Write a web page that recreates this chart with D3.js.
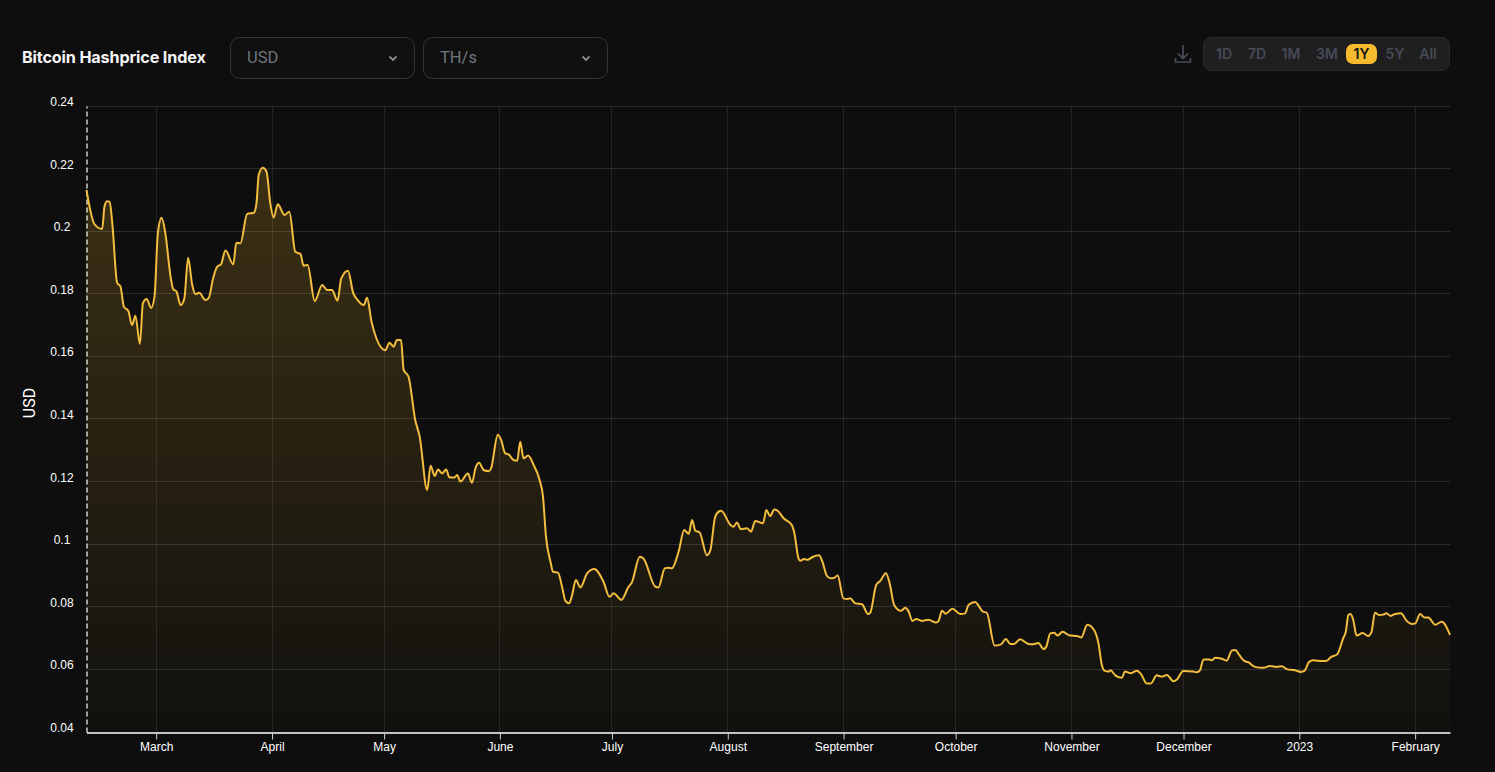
<!DOCTYPE html>
<html><head><meta charset="utf-8">
<script src="https://cdn.jsdelivr.net/npm/d3@7"></script>
<style>
html,body{margin:0;padding:0;background:#0e0e0e;overflow:hidden}
svg{display:block}
</style></head><body><svg id="c" width="1495" height="772"></svg>
<script>
const title = "Bitcoin Hashprice Index";
const selectors = ["USD", "TH/s"];
const ranges = ["1D","7D","1M","3M","1Y","5Y","All"];
const activeRange = "1Y";
const yLabel = "USD";
const startTime = "2022-02-10T08:00:00Z";
const endTime = "2023-02-10T08:00:00Z";
const yTicks = [0.04,0.06,0.08,0.1,0.12,0.14,0.16,0.18,0.2,0.22,0.24];
const monthTicks = ["2022-03-01","2022-04-01","2022-05-01","2022-06-01","2022-07-01","2022-08-01","2022-09-01","2022-10-01","2022-11-01","2022-12-01","2023-01-01","2023-02-01"];
const monthLabels = ["March","April","May","June","July","August","September","October","November","December","2023","February"];
// days since startTime
const days = [0,2.1,4.2,4.8,5.5,6.2,6.9,8.2,9.1,10,11.2,12.2,13.1,14.3,15.1,16.1,17.3,18.2,19.1,20.1,21.1,22.5,23.2,24.1,25.2,26.2,27.2,28.3,29.2,30.2,31.8,32.7,33.9,35,36,37.2,39.3,40.1,41.2,43,44.8,45.5,46.1,47.2,48.2,49.2,50.1,51.2,53,54.3,55.9,57.3,58.1,59.2,61.1,63.1,64.4,65.7,67.2,68.2,70,71.4,72.4,74.2,75.1,76.3,80,81.1,82.2,83.1,84.2,84.9,86.2,88,89.2,91.2,92.1,93.2,94.1,95.2,96.3,97.1,98.5,99.2,100.1,102.1,103.2,104.1,105.1,106.3,107.7,108.3,110.1,111,112.1,113,114.3,115.3,116.1,117,118.2,119.7,121.3,122.2,123,124.2,124.9,126.2,127.3,128.2,129.2,130,131,132.2,134,135.9,138.4,140,141.1,143.2,145.1,146,148.1,149.1,152.3,153.1,154.8,155.6,156.7,158.5,160,161.2,162.1,163,164.1,166.1,167,168.3,169.5,169.9,172.3,173.2,174.1,175.2,176.8,177.9,179,181.1,182,183,184.1,185,186.6,188.8,189.5,190.6,191.1,192.1,193,194.5,196.1,197,198.2,199.1,200.2,201.1,202.6,203.8,204.4,205.8,207.6,209.2,209.8,211.4,212.5,214,215,216.2,218,219.2,220,221.1,222.1,223.6,225.4,227.4,228.1,229,230,231.8,233.9,235.2,236.1,237.9,238.8,239.9,241,243.1,244.8,246.1,247.3,248.3,249.9,252.2,253.1,254.8,256.2,256.9,258,259.1,259.9,261.3,263.3,265.1,266.3,267.9,269.8,270.9,271.8,272.5,273.6,274.1,275.4,277.1,278,279.6,281.2,282.3,283.8,284.9,286.5,287.8,289.2,291,291.9,293.6,296.2,297.2,298.1,299,300.6,301.2,302.1,303.9,305.2,306.6,307.5,308.6,309.9,311,312.8,315,316.8,318.6,320,321.3,323.5,325.1,326,327.3,328.4,330.7,332,333.1,334.8,336.4,337.1,337.8,338.4,339.1,340,341.6,343.1,344,344.9,346,347.1,348,349.1,350.3,351.9,353.4,354.8,355.7,357,358.1,359.2,361,362.8,365];
const values = [.2132,.2023,.2007,.2078,.2096,.2094,.2026,.1835,.1823,.1759,.1745,.17,.173,.164,.177,.1783,.1755,.1791,.1993,.2043,.1994,.1855,.1815,.1807,.1764,.1786,.1915,.1828,.1799,.1803,.178,.1786,.185,.1887,.1894,.1938,.1894,.1963,.1961,.2055,.2059,.2089,.218,.2203,.219,.2089,.2044,.2086,.2052,.2062,.1934,.1927,.189,.1892,.1777,.1828,.1812,.1812,.1778,.1849,.1874,.1802,.1783,.1764,.1787,.1711,.162,.1644,.1631,.1652,.1652,.1557,.1535,.1397,.1343,.1173,.1251,.1218,.1239,.1226,.1239,.1214,.1213,.1221,.12,.1226,.1196,.1242,.126,.1237,.1233,.1242,.135,.1333,.129,.1287,.1269,.1267,.1327,.1274,.1283,.1253,.1205,.1152,.1024,.0944,.0912,.0909,.0864,.0819,.0811,.0838,.0886,.0862,.0907,.0921,.088,.0832,.0843,.0822,.0864,.0878,.096,.0954,.0864,.0862,.0923,.0925,.0923,.0976,.1045,.1033,.1077,.1043,.1038,.0965,.0981,.1088,.1106,.1107,.1063,.1056,.1069,.1048,.1051,.104,.1074,.1067,.1109,.109,.1111,.1107,.1083,.1061,.1035,.0955,.0947,.0953,.095,.096,.0965,.0944,.0899,.0891,.0893,.09,.0827,.0825,.0827,.0811,.0808,.0777,.0781,.087,.0883,.0907,.0875,.0806,.0787,.0797,.0787,.0755,.0761,.0755,.0759,.075,.0755,.0787,.0778,.0794,.0777,.0779,.0806,.0815,.0804,.0785,.0781,.0676,.068,.0697,.0681,.0681,.0696,.0681,.068,.0684,.0665,.0672,.0715,.0717,.0708,.072,.0708,.0707,.0702,.0743,.0724,.0683,.0614,.0596,.0593,.0597,.0581,.0573,.0593,.0588,.0596,.0585,.0555,.0555,.0581,.0577,.0582,.0562,.0568,.0595,.0593,.0591,.0598,.0632,.0632,.0629,.0637,.0634,.0628,.066,.0662,.0646,.0627,.0623,.0608,.0605,.0611,.0608,.061,.0601,.0597,.0592,.0595,.0624,.0629,.0627,.0628,.0639,.0648,.0699,.072,.0774,.0777,.0758,.0708,.0716,.0707,.072,.0781,.0774,.0775,.0779,.0771,.0777,.0779,.0755,.0745,.0747,.0777,.0766,.0766,.0743,.0752,.071];

const svg = d3.select("#c");
const t0 = new Date(startTime);
const x = d3.scaleUtc().domain([t0,new Date(endTime)]).range([86.5,1450]);
const y = d3.scaleLinear().domain([0.04,0.24]).range([732,106]);
const pts = days.map((d,i)=>({t:new Date(+t0+d*864e5),v:values[i]}));
const monthDates = monthTicks.map(s=>new Date(s+"T00:00:00Z"));
const snap = v=>Math.floor(v)+.5;

const defs = svg.append("defs");
const g = defs.append("linearGradient").attr("id","fill").attr("gradientUnits","userSpaceOnUse")
  .attr("x1",0).attr("x2",0).attr("y1",y(0.22)).attr("y2",y(0.04));
g.append("stop").attr("offset",0).attr("stop-color","#f5ba2e").attr("stop-opacity",0.2);
g.append("stop").attr("offset",1).attr("stop-color","#f5ba2e").attr("stop-opacity",0.015);

// area
svg.append("path").datum(pts).attr("fill","url(#fill)")
  .attr("d",d3.area().x(d=>x(d.t)).y0(y(0.04)).y1(d=>y(d.v)).curve(d3.curveMonotoneX));

// grid
svg.append("g").selectAll("line").data(yTicks.slice(1)).join("line")
  .attr("x1",86.5).attr("x2",1450).attr("y1",d=>snap(y(d))).attr("y2",d=>snap(y(d)))
  .attr("stroke","rgba(255,255,255,0.12)");
svg.append("g").selectAll("line").data(monthDates).join("line")
  .attr("x1",d=>snap(x(d))).attr("x2",d=>snap(x(d))).attr("y1",106.5).attr("y2",732)
  .attr("stroke","rgba(255,255,255,0.09)");

// y axis
const ya = svg.append("g").attr("transform","translate(86.5,0)")
  .call(d3.axisLeft(y).tickValues(yTicks).tickFormat(d=>String(+d.toFixed(2))).tickSize(0));
ya.select(".domain").attr("stroke","#fff").attr("stroke-width",1.2).attr("stroke-dasharray","5,3");
ya.selectAll("text").attr("x",-24.5).attr("dy",0).attr("y",-0.5).attr("text-anchor","middle")
  .attr("fill","#fff").attr("font-size",12).attr("font-family","Liberation Sans,Arial,sans-serif");

// x axis
const xa = svg.append("g").attr("transform","translate(0,732.5)")
  .call(d3.axisBottom(x).tickValues(monthDates).tickFormat((d,i)=>monthLabels[i]).tickSize(7).tickSizeOuter(0));
xa.select(".domain").attr("stroke","#fff").attr("stroke-width",1.4);
xa.selectAll("line").attr("stroke","#cfcfcf");
xa.selectAll("text").attr("fill","#fff").attr("font-size",12).attr("y",10).attr("dy","0.71em")
  .attr("font-family","Liberation Sans,Arial,sans-serif");

// line
svg.append("path").datum(pts).attr("fill","none").attr("stroke","#f3bd3e").attr("stroke-width",2)
  .attr("d",d3.line().x(d=>x(d.t)).y(d=>y(d.v)).curve(d3.curveMonotoneX));

// y title
svg.append("text").attr("transform","translate(35,403) rotate(-90)").attr("text-anchor","middle")
  .attr("fill","#fff").attr("font-size",16).attr("font-family","Roboto,sans-serif").text(yLabel);

// header
svg.append("text").attr("x",22).attr("y",63).attr("fill","#f4f4f6").attr("font-size",16.2).attr("font-weight",700)
  .attr("letter-spacing",-0.15).attr("font-family","Inter,sans-serif").text(title);
const selX = [230,423];
selectors.forEach((s,i)=>{
  const a = selX[i];
  svg.append("rect").attr("x",a+.5).attr("y",37.5).attr("width",184).attr("height",41).attr("rx",9)
    .attr("fill","#101010").attr("stroke","#333436");
  svg.append("text").attr("x",a+17).attr("y",63).attr("fill","#6f767d").attr("font-size",16.5)
    .attr("font-family","Roboto,sans-serif").text(s);
  svg.append("path").attr("d",`M${a+159.5},56.5 l3.5,3.5 l3.5,-3.5`).attr("fill","none").attr("stroke","#8a8d90").attr("stroke-width",1.8);
});
// download icon
svg.append("path").attr("d","M1183,45 V58 M1178,53.5 L1183,58.5 L1188,53.5 M1175.5,58 V62 H1190.5 V58")
  .attr("fill","none").attr("stroke","#474c57").attr("stroke-width",1.7);
// range buttons
svg.append("rect").attr("x",1203.5).attr("y",37.5).attr("width",246).attr("height",33).attr("rx",8)
  .attr("fill","#1f1f1f").attr("stroke","#2c2c2c");
const rangeCenters = [1224,1257,1291,1327,1361.5,1395,1428];
svg.append("rect").attr("x",1346).attr("y",44).attr("width",31).attr("height",20).attr("rx",7).attr("fill","#f5ba2e");
ranges.forEach((r,i)=>{
  svg.append("text").attr("x",rangeCenters[i]).attr("y",59).attr("text-anchor","middle")
    .attr("font-size",14).attr("font-weight",600).attr("font-family","Inter,sans-serif")
    .attr("fill",r===activeRange?"#141414":"#454a56").text(r);
});
</script></body></html>
